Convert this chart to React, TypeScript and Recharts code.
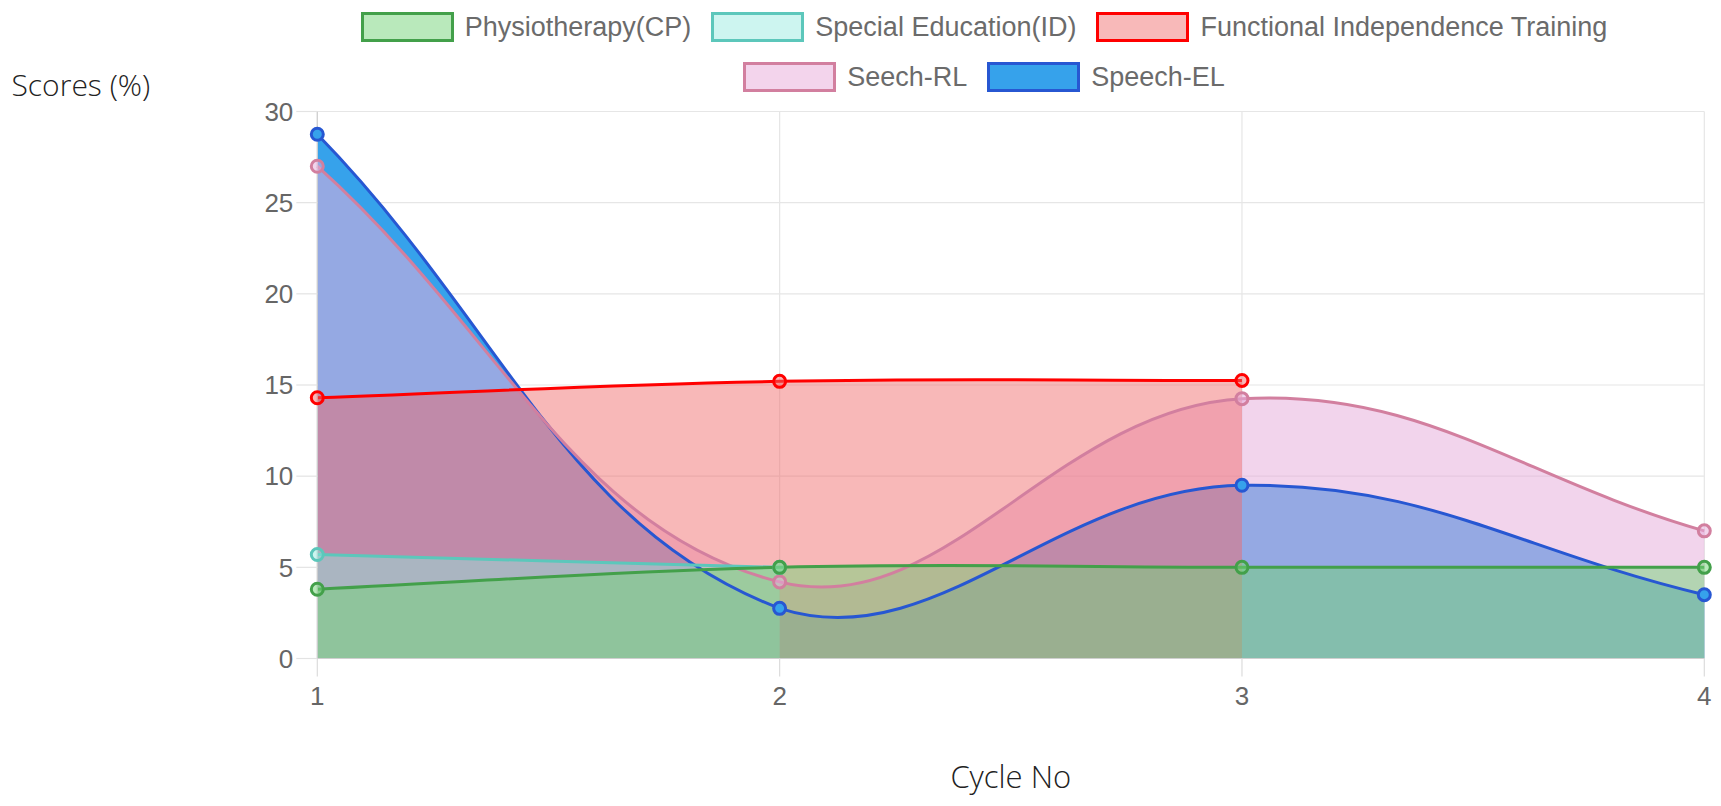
import React from "react";
import { ComposedChart, Area, Line, XAxis, YAxis, CartesianGrid } from "recharts";

// ---------- data ----------
const cycles = [1, 2, 3, 4];
const physiotherapyCP = [3.8, 5.0, 5.0, 5.0];
const specialEducationID: (number | null)[] = [5.7, 5.0, null, null];
const functionalIndependence: (number | null)[] = [14.3, 15.2, 15.25, null];
const speechRL = [27.0, 4.2, 14.25, 7.0];
const speechEL = [28.75, 2.75, 9.5, 3.5];
const yTicks = [0, 5, 10, 15, 20, 25, 30];
const xTicks = [1, 2, 3, 4];

const seriesNames = {
  cp: "Physiotherapy(CP)",
  id: "Special Education(ID)",
  fit: "Functional Independence Training",
  rl: "Seech-RL",
  el: "Speech-EL",
};

const data = cycles.map((c, i) => ({
  cycle: c,
  cp: physiotherapyCP[i],
  id: specialEducationID[i],
  fit: functionalIndependence[i],
  rl: speechRL[i],
  el: speechEL[i],
}));

// ---------- styles ----------
const W = 1721;
const H = 806;
const PLOT = { left: 317.3, right: 1704.3, top: 111.5, bottom: 658.5 };
const Y_AXIS_W = 100;
const X_AXIS_H = 60;

type Style = { line: string; fill: string; op: number; legendFill: string };
const styles: Record<string, Style> = {
  cp: { line: "#43a04a", fill: "rgb(116,212,119)", op: 0.5, legendFill: "#b9e9bb" },
  id: { line: "#5cc7bb", fill: "rgb(143,233,222)", op: 0.46, legendFill: "#cdf5f0" },
  fit: { line: "#ff0000", fill: "rgb(240,105,105)", op: 0.47, legendFill: "#f8b9b9" },
  rl: { line: "#d27f9f", fill: "rgb(231,175,220)", op: 0.54, legendFill: "#f3d4ec" },
  el: { line: "#2757d2", fill: "rgb(54,162,235)", op: 1, legendFill: "#36a2eb" },
};

const legendRows = [["cp", "id", "fit"], ["rl", "el"]];
const drawOrder = ["el", "rl", "fit", "id", "cp"];

// Chart.js-like cubic spline (tension 0.4, control points capped to the plot area)
function makeChartJsCurve(tension: number) {
  const cap = (v: number, lo: number, hi: number) => Math.max(Math.min(v, hi), lo);
  return function (context: any) {
    const c: any = {
      _context: context,
      _line: undefined as any,
      _x: [] as number[],
      _y: [] as number[],
      areaStart() { this._line = 0; },
      areaEnd() { this._line = NaN; },
      lineStart() { this._x = []; this._y = []; },
      point(x: number, y: number) { this._x.push(+x); this._y.push(+y); },
      lineEnd() {
        const xs = this._x, ys = this._y, n = xs.length;
        const ctx = this._context;
        if (n) {
          if (this._line) ctx.lineTo(xs[0], ys[0]);
          else ctx.moveTo(xs[0], ys[0]);
          if (n > 1) {
            const prev: { x: number; y: number }[] = [];
            const next: { x: number; y: number }[] = [];
            for (let i = 0; i < n; i++) {
              const a = i > 0 ? i - 1 : i;
              const b = i < n - 1 ? i + 1 : i;
              const d01 = Math.hypot(xs[i] - xs[a], ys[i] - ys[a]);
              const d12 = Math.hypot(xs[b] - xs[i], ys[b] - ys[i]);
              let s01 = d01 / (d01 + d12);
              let s12 = d12 / (d01 + d12);
              if (isNaN(s01)) s01 = 0;
              if (isNaN(s12)) s12 = 0;
              const fa = tension * s01;
              const fb = tension * s12;
              prev.push({
                x: cap(xs[i] - fa * (xs[b] - xs[a]), PLOT.left, PLOT.right),
                y: cap(ys[i] - fa * (ys[b] - ys[a]), PLOT.top, PLOT.bottom),
              });
              next.push({
                x: cap(xs[i] + fb * (xs[b] - xs[a]), PLOT.left, PLOT.right),
                y: cap(ys[i] + fb * (ys[b] - ys[a]), PLOT.top, PLOT.bottom),
              });
            }
            for (let i = 1; i < n; i++) {
              ctx.bezierCurveTo(next[i - 1].x, next[i - 1].y, prev[i].x, prev[i].y, xs[i], ys[i]);
            }
          }
        }
        if (this._line || (this._line !== 0 && n === 1)) ctx.closePath();
        this._line = 1 - this._line;
      },
    };
    return c;
  };
}
const chartJsCurve = makeChartJsCurve(0.4);

const tickFont = { fill: "#666", fontSize: 26, fontFamily: "'Liberation Sans', Arial, sans-serif" };

export default function App() {
  return (
    <div style={{ position: "absolute", left: 0, top: 0, width: W, height: H, background: "#fff", overflow: "hidden" }}>
      <div style={{ position: "absolute", left: 0, top: 0 }}>
        <ComposedChart
          width={W}
          height={H}
          data={data}
          margin={{
            top: PLOT.top,
            right: W - PLOT.right,
            bottom: H - PLOT.bottom - X_AXIS_H,
            left: PLOT.left - Y_AXIS_W,
          }}
        >
          <CartesianGrid stroke="#e6e6e6" strokeWidth={1.2} />
          <XAxis
            dataKey="cycle"
            type="number"
            domain={[1, 4]}
            ticks={xTicks}
            height={X_AXIS_H}
            tickSize={18}
            tickMargin={10}
            tick={tickFont}
            axisLine={{ stroke: "#cfcfcf", strokeWidth: 1.2 }}
            tickLine={{ stroke: "#dcdcdc", strokeWidth: 1.2 }}
            interval={0}
          />
          <YAxis
            type="number"
            domain={[0, 30]}
            ticks={yTicks}
            width={Y_AXIS_W}
            tickSize={21}
            tickMargin={3}
            tick={tickFont}
            axisLine={{ stroke: "#cfcfcf", strokeWidth: 1.2 }}
            tickLine={{ stroke: "#e3e3e3", strokeWidth: 1.2 }}
            interval={0}
          />
          {drawOrder.map((k) => {
            const s = styles[k];
            return (
              <Area
                key={"a-" + k}
                dataKey={k}
                name={(seriesNames as any)[k]}
                type={chartJsCurve as any}
                stroke="none"
                fill={s.fill}
                fillOpacity={s.op}
                isAnimationActive={false}
                connectNulls={false}
                activeDot={false}
                dot={false}
                legendType="none"
              />
            );
          })}
          {drawOrder.map((k) => {
            const s = styles[k];
            return (
              <Line
                key={"l-" + k}
                dataKey={k}
                name={(seriesNames as any)[k]}
                type={chartJsCurve as any}
                stroke={s.line}
                strokeWidth={3}
                isAnimationActive={false}
                connectNulls={false}
                activeDot={false}
                dot={{ r: 6, strokeWidth: 3, stroke: s.line, fill: s.fill, fillOpacity: s.op }}
              />
            );
          })}
        </ComposedChart>
      </div>

      {/* legend */}
      {legendRows.map((row, ri) => (
        <div
          key={ri}
          style={{
            position: "absolute",
            left: 0,
            width: 1968,
            top: ri === 0 ? 12 : 62,
            height: 30,
            display: "flex",
            justifyContent: "center",
            alignItems: "center",
          }}
        >
          {row.map((k, i) => {
            const s = styles[k];
            return (
              <div key={k} style={{ display: "flex", alignItems: "center", marginLeft: i === 0 ? 0 : 20 }}>
                <div
                  style={{
                    width: 93,
                    height: 30,
                    boxSizing: "border-box",
                    border: `3px solid ${s.line}`,
                    background: s.legendFill,
                  }}
                />
                <span
                  style={{
                    marginLeft: 11,
                    fontFamily: "'Liberation Sans', Arial, sans-serif",
                    fontSize: 27,
                    color: "#6b6b6b",
                    lineHeight: "30px",
                    whiteSpace: "nowrap",
                  }}
                >
                  {(seriesNames as any)[k]}
                </span>
              </div>
            );
          })}
        </div>
      ))}

      {/* axis titles */}
      <svg width={W} height={H} style={{ position: "absolute", left: 0, top: 0, pointerEvents: "none" }}>
        <text x={11.5} y={95.5} fontFamily="'Open Sans', sans-serif" fontWeight={300} fontSize={30} fill="#222">
          Scores (%)
        </text>
        <text
          x={(PLOT.left + PLOT.right) / 2}
          y={788}
          textAnchor="middle"
          fontFamily="'Open Sans', sans-serif"
          fontWeight={300}
          fontSize={31}
          fill="#222"
        >
          Cycle No
        </text>
      </svg>
    </div>
  );
}
